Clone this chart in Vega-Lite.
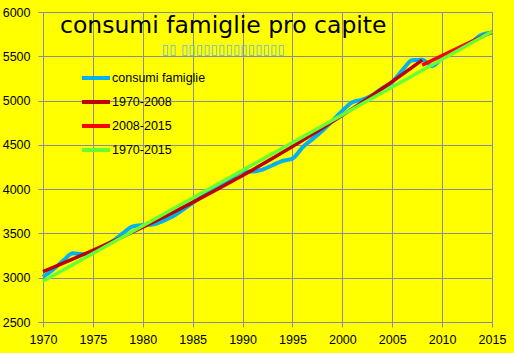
{
  "$schema": "https://vega.github.io/schema/vega-lite/v6.json",
  "width": 449,
  "height": 310,
  "autosize": {"type": "none"},
  "padding": {"left": 43, "top": 12, "right": 22, "bottom": 31},
  "background": "#FFFF00",
  "config": {
    "view": {"stroke": null},
    "axis": {
      "gridColor": "#8C8CA0",
      "gridWidth": 1,
      "gridOpacity": 1,
      "domainColor": "#8C8CA0",
      "tickColor": "#8C8CA0",
      "tickSize": 5,
      "labelFont": "Liberation Sans",
      "labelFontSize": 12.5,
      "labelColor": "#000000",
      "labelFlush": false,
      "labelOverlap": false,
      "title": null
    }
  },
  "datasets": {
    "series": [
      {"year": 1970, "value": 3010, "series": "consumi famiglie"},
      {"year": 1971, "value": 3090, "series": "consumi famiglie"},
      {"year": 1972, "value": 3190, "series": "consumi famiglie"},
      {"year": 1973, "value": 3275, "series": "consumi famiglie"},
      {"year": 1974, "value": 3265, "series": "consumi famiglie"},
      {"year": 1975, "value": 3285, "series": "consumi famiglie"},
      {"year": 1976, "value": 3350, "series": "consumi famiglie"},
      {"year": 1977, "value": 3415, "series": "consumi famiglie"},
      {"year": 1978, "value": 3500, "series": "consumi famiglie"},
      {"year": 1979, "value": 3580, "series": "consumi famiglie"},
      {"year": 1980, "value": 3595, "series": "consumi famiglie"},
      {"year": 1981, "value": 3600, "series": "consumi famiglie"},
      {"year": 1982, "value": 3640, "series": "consumi famiglie"},
      {"year": 1983, "value": 3690, "series": "consumi famiglie"},
      {"year": 1984, "value": 3765, "series": "consumi famiglie"},
      {"year": 1985, "value": 3845, "series": "consumi famiglie"},
      {"year": 1986, "value": 3920, "series": "consumi famiglie"},
      {"year": 1987, "value": 3995, "series": "consumi famiglie"},
      {"year": 1988, "value": 4065, "series": "consumi famiglie"},
      {"year": 1989, "value": 4135, "series": "consumi famiglie"},
      {"year": 1990, "value": 4200, "series": "consumi famiglie"},
      {"year": 1991, "value": 4200, "series": "consumi famiglie"},
      {"year": 1992, "value": 4220, "series": "consumi famiglie"},
      {"year": 1993, "value": 4270, "series": "consumi famiglie"},
      {"year": 1994, "value": 4320, "series": "consumi famiglie"},
      {"year": 1995, "value": 4345, "series": "consumi famiglie"},
      {"year": 1996, "value": 4470, "series": "consumi famiglie"},
      {"year": 1997, "value": 4565, "series": "consumi famiglie"},
      {"year": 1998, "value": 4660, "series": "consumi famiglie"},
      {"year": 1999, "value": 4770, "series": "consumi famiglie"},
      {"year": 2000, "value": 4885, "series": "consumi famiglie"},
      {"year": 2001, "value": 4980, "series": "consumi famiglie"},
      {"year": 2002, "value": 5010, "series": "consumi famiglie"},
      {"year": 2003, "value": 5060, "series": "consumi famiglie"},
      {"year": 2004, "value": 5140, "series": "consumi famiglie"},
      {"year": 2005, "value": 5210, "series": "consumi famiglie"},
      {"year": 2006, "value": 5340, "series": "consumi famiglie"},
      {"year": 2007, "value": 5455, "series": "consumi famiglie"},
      {"year": 2008, "value": 5460, "series": "consumi famiglie"},
      {"year": 2009, "value": 5390, "series": "consumi famiglie"},
      {"year": 2010, "value": 5480, "series": "consumi famiglie"},
      {"year": 2011, "value": 5540, "series": "consumi famiglie"},
      {"year": 2012, "value": 5600, "series": "consumi famiglie"},
      {"year": 2013, "value": 5665, "series": "consumi famiglie"},
      {"year": 2014, "value": 5745, "series": "consumi famiglie"},
      {"year": 2015, "value": 5765, "series": "consumi famiglie"},
      {"year": 1970, "value": 3068, "series": "1970-2008"},
      {"year": 1975, "value": 3310, "series": "1970-2008"},
      {"year": 1980, "value": 3570, "series": "1970-2008"},
      {"year": 1985, "value": 3851, "series": "1970-2008"},
      {"year": 1990, "value": 4154, "series": "1970-2008"},
      {"year": 1995, "value": 4481, "series": "1970-2008"},
      {"year": 2000, "value": 4833, "series": "1970-2008"},
      {"year": 2005, "value": 5214, "series": "1970-2008"},
      {"year": 2008, "value": 5456, "series": "1970-2008"},
      {"year": 2008, "value": 5400, "series": "2008-2015"},
      {"year": 2015, "value": 5775, "series": "2008-2015"},
      {"year": 1970, "value": 2960, "series": "1970-2015"},
      {"year": 2015, "value": 5780, "series": "1970-2015"}
    ],
    "labels": [
      {"t": "consumi famiglie pro capite", "kind": "title"},
      {"t": "▯▯ ▯▯▯▯▯▯▯▯▯▯▯▯▯▯", "kind": "sub"}
    ]
  },
  "layer": [
    {
      "data": {"name": "series"},
      "transform": [{"filter": "datum.series === 'consumi famiglie'"}],
      "mark": {"type": "line", "interpolate": "monotone", "strokeWidth": 4},
      "encoding": {
        "x": {
          "field": "year",
          "type": "quantitative",
          "scale": {"domain": [1970, 2015], "nice": false, "zero": false},
          "axis": {"values": [1970, 1975, 1980, 1985, 1990, 1995, 2000, 2005, 2010, 2015], "format": "d", "labelPadding": 6}
        },
        "y": {
          "field": "value",
          "type": "quantitative",
          "scale": {"domain": [2500, 6000], "nice": false, "zero": false},
          "axis": {"values": [2500, 3000, 3500, 4000, 4500, 5000, 5500, 6000], "format": "d", "labelPadding": 8}
        },
        "color": {
          "field": "series",
          "type": "nominal",
          "scale": {
            "domain": ["consumi famiglie", "1970-2008", "2008-2015", "1970-2015"],
            "range": ["#00B0F0", "#C00000", "#FF0000", "#66FF33"]
          },
          "legend": {
            "orient": "none",
            "legendX": 37,
            "legendY": 50,
            "title": null,
            "padding": 0,
            "symbolType": "stroke",
            "symbolSize": 784,
            "symbolStrokeWidth": 4,
            "rowPadding": -2,
            "labelFont": "Liberation Sans",
            "labelFontSize": 12.5,
            "labelColor": "#000000",
            "labelOffset": 0
          }
        }
      }
    },
    {
      "data": {"name": "series"},
      "transform": [{"filter": "datum.series === '1970-2008'"}],
      "mark": {"type": "line", "interpolate": "monotone", "strokeWidth": 3.5},
      "encoding": {
        "x": {"field": "year", "type": "quantitative"},
        "y": {"field": "value", "type": "quantitative"},
        "color": {"field": "series", "type": "nominal"}
      }
    },
    {
      "data": {"name": "series"},
      "transform": [{"filter": "datum.series === '2008-2015'"}],
      "mark": {"type": "line", "strokeWidth": 3.5},
      "encoding": {
        "x": {"field": "year", "type": "quantitative"},
        "y": {"field": "value", "type": "quantitative"},
        "color": {"field": "series", "type": "nominal"}
      }
    },
    {
      "data": {"name": "series"},
      "transform": [{"filter": "datum.series === '1970-2015'"}],
      "mark": {"type": "line", "strokeWidth": 3.5},
      "encoding": {
        "x": {"field": "year", "type": "quantitative"},
        "y": {"field": "value", "type": "quantitative"},
        "color": {"field": "series", "type": "nominal"}
      }
    },
    {
      "data": {"name": "labels"},
      "transform": [{"filter": "datum.kind === 'title'"}],
      "mark": {"type": "text", "font": "DejaVu Sans", "fontSize": 23.5, "align": "left", "baseline": "alphabetic", "fill": "#000000"},
      "encoding": {
        "x": {"datum": 1971.7, "type": "quantitative"},
        "y": {"datum": 5763, "type": "quantitative"},
        "text": {"field": "t", "type": "nominal"}
      }
    },
    {
      "data": {"name": "labels"},
      "transform": [{"filter": "datum.kind === 'sub'"}],
      "mark": {"type": "text", "font": "DejaVu Sans", "fontSize": 13.5, "align": "left", "baseline": "alphabetic", "fill": "#6BB8D4"},
      "encoding": {
        "x": {"datum": 1981.9, "type": "quantitative"},
        "y": {"datum": 5525, "type": "quantitative"},
        "text": {"field": "t", "type": "nominal"}
      }
    }
  ]
}
